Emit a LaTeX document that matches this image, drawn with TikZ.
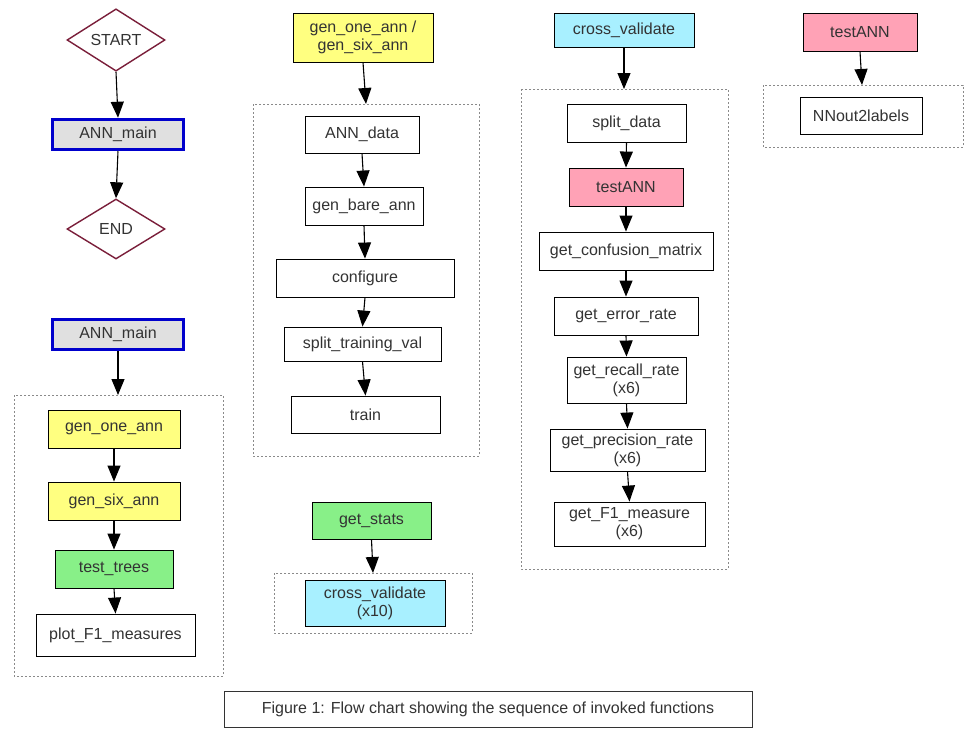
\documentclass[tikz,border=0pt]{standalone}
\usepackage{fontspec}
\setmainfont{Liberation Sans}
\usetikzlibrary{shapes.geometric,arrows.meta}
\definecolor{txt}{HTML}{333333}
\definecolor{yel}{HTML}{FFFF80}
\definecolor{grn}{HTML}{88F088}
\definecolor{cya}{HTML}{A8F0FF}
\definecolor{pnk}{HTML}{FFA2B6}
\definecolor{gry}{HTML}{E0E0E0}
\definecolor{blu}{HTML}{0000CC}
\definecolor{mar}{HTML}{7A1E3A}
\definecolor{clu}{HTML}{8A8A8A}
\tikzset{
  every node/.style={font=\fontsize{16}{18}\selectfont, text=txt},
  fbox/.style={draw=black, line width=0.9pt, inner sep=0pt, align=center, fill=white},
  yelbox/.style={fbox, fill=yel},
  grnbox/.style={fbox, fill=grn},
  cyabox/.style={fbox, fill=cya},
  pnkbox/.style={fbox, fill=pnk},
  mainbox/.style={draw=blu, line width=3.5pt, fill=gry, inner sep=0pt},
  term/.style={diamond, draw=mar, line width=1.4pt, inner sep=0pt, fill=white},
  clusterbox/.style={draw=clu, line width=0.8pt, dash pattern=on 2pt off 2pt},
  conn/.style={draw=black, line width=1.1pt, -{Triangle[length=16pt,width=13pt]}},
}
\begin{document}
\begin{tikzpicture}[x=1pt,y=-1pt]
\useasboundingbox[fill=white] (0,0) rectangle (975,739);

% clusters
\draw[clusterbox] (14,395) rectangle (223,676);
\draw[clusterbox] (253,104) rectangle (479,456);
\draw[clusterbox] (274,573) rectangle (472,633);
\draw[clusterbox] (521,89) rectangle (728,569);
\draw[clusterbox] (763,85) rectangle (963,147);

% left column
\node[term, minimum width=98pt, minimum height=62pt] (start) at (116,40) {START};
\node[mainbox, minimum width=131pt, minimum height=30pt] (main1) at (118,134.5) {ANN\_main};
\node[term, minimum width=98pt, minimum height=60pt] (end) at (116,229) {END};
\node[mainbox, minimum width=131pt, minimum height=30pt] (main2) at (118,334.5) {ANN\_main};
\coordinate (cl1) at (118,395);
\node[yelbox, minimum width=132pt, minimum height=38pt] (one) at (114,429) {gen\_one\_ann};
\node[yelbox, minimum width=132pt, minimum height=38pt] (six) at (114,501) {gen\_six\_ann};
\node[grnbox, minimum width=118pt, minimum height=38pt] (tt) at (114,569) {test\_trees};
\node[fbox, minimum width=159pt, minimum height=42pt] (plot) at (115.5,635) {plot\_F1\_measures};

% middle column
\node[yelbox, minimum width=140pt, minimum height=49pt] (gg) at (363,37.5) {gen\_one\_ann /\\gen\_six\_ann};
\coordinate (cl2) at (366,104);
\node[fbox, minimum width=114pt, minimum height=37pt] (data) at (362,134.5) {ANN\_data};
\node[fbox, minimum width=118pt, minimum height=38pt] (bare) at (364,206) {gen\_bare\_ann};
\node[fbox, minimum width=178pt, minimum height=38pt] (conf) at (365,278) {configure};
\node[fbox, minimum width=157pt, minimum height=34pt] (stv) at (362.5,344) {split\_training\_val};
\node[fbox, minimum width=149pt, minimum height=37pt] (train) at (365.5,414.5) {train};
\node[grnbox, minimum width=119pt, minimum height=37pt] (stats) at (371.5,520.5) {get\_stats};
\coordinate (cl3) at (373,573);
\node[cyabox, minimum width=140pt, minimum height=46pt] (cv10) at (375,603) {cross\_validate\\(x10)};

% right column
\node[cyabox, minimum width=140pt, minimum height=34pt] (cv) at (624,30) {cross\_validate};
\coordinate (cl4) at (624,89);
\node[fbox, minimum width=119pt, minimum height=38pt] (sd) at (626.5,123) {split\_data};
\node[pnkbox, minimum width=114pt, minimum height=38pt] (ta) at (626,187) {testANN};
\node[fbox, minimum width=174pt, minimum height=38pt] (gcm) at (626,251) {get\_confusion\_matrix};
\node[fbox, minimum width=144pt, minimum height=38pt] (ger) at (626,316) {get\_error\_rate};
\node[fbox, minimum width=119pt, minimum height=46pt] (grr) at (626.5,380) {get\_recall\_rate\\(x6)};
\node[fbox, minimum width=155pt, minimum height=42pt] (gpr) at (627.5,450) {get\_precision\_rate\\(x6)};
\node[fbox, minimum width=151pt, minimum height=44pt] (gf1) at (629.5,524) {get\_F1\_measure\\(x6)};

% far right
\node[pnkbox, minimum width=114pt, minimum height=38pt] (ta2) at (860,32) {testANN};
\coordinate (cl5) at (862,85);
\node[fbox, minimum width=122pt, minimum height=37pt] (nn) at (861,115.5) {NNout2labels};

% caption
\node[draw=txt, line width=0.9pt, minimum width=528pt, minimum height=36pt, inner sep=0pt] (cap) at (488,709) {Figure 1: Flow chart showing the sequence of invoked functions};

% connectors
\draw[conn] (start.south) -- (main1.north);
\draw[conn] (main1.south) -- (end.north);
\draw[conn] (main2.south) -- (cl1);
\draw[conn] (one.south) -- (six.north);
\draw[conn] (six.south) -- (tt.north);
\draw[conn] (tt.south) -- (plot.north);
\draw[conn] (gg.south) -- (cl2);
\draw[conn] (data.south) -- (bare.north);
\draw[conn] (bare.south) -- (conf.north);
\draw[conn] (conf.south) -- (stv.north);
\draw[conn] (stv.south) -- (train.north);
\draw[conn] (stats.south) -- (cl3);
\draw[conn] (cv.south) -- (cl4);
\draw[conn] (sd.south) -- (ta.north);
\draw[conn] (ta.south) -- (gcm.north);
\draw[conn] (gcm.south) -- (ger.north);
\draw[conn] (ger.south) -- (grr.north);
\draw[conn] (grr.south) -- (gpr.north);
\draw[conn] (gpr.south) -- (gf1.north);
\draw[conn] (ta2.south) -- (cl5);
\end{tikzpicture}
\end{document}
